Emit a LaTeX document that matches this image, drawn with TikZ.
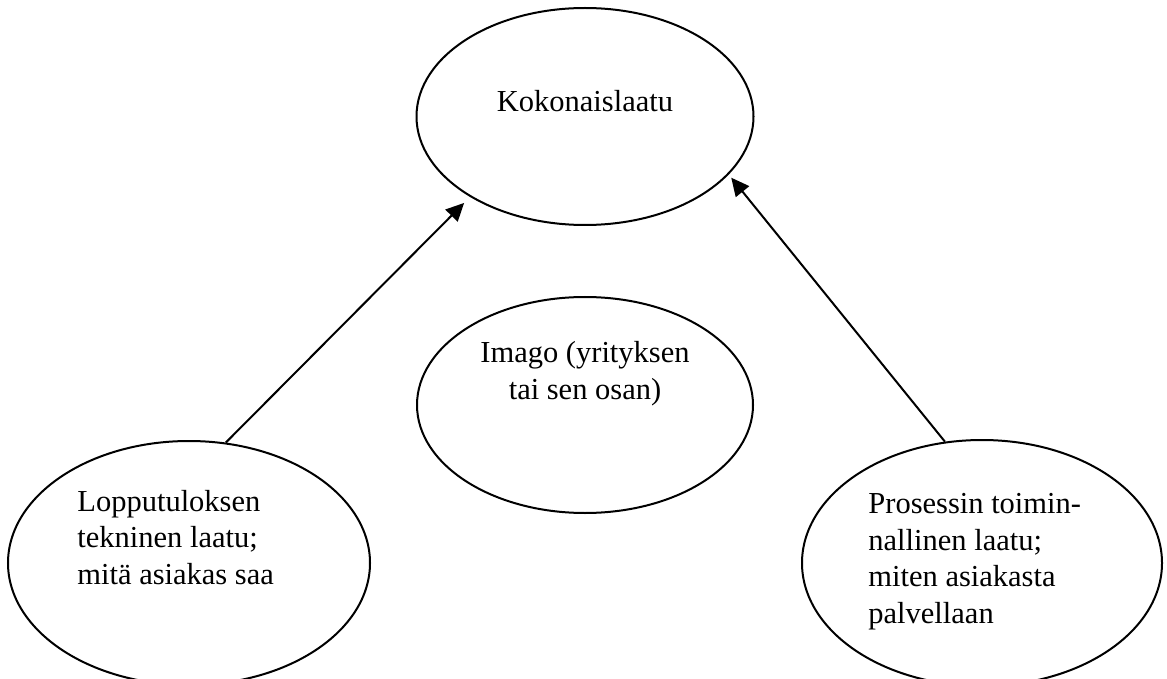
\documentclass[tikz,border=0pt]{standalone}
\usepackage{fontspec}
\setmainfont{Liberation Serif}
\usetikzlibrary{shapes.geometric,arrows.meta}

\begin{document}
\begin{tikzpicture}[x=0.5pt,y=-0.5pt,
  kupla/.style={draw, ellipse, line width=1pt, inner sep=0pt},
  teksti/.style={inner sep=0pt, font=\fontsize{15.25}{18.25}\selectfont},
  nuoli/.style={-{Triangle[length=9pt,width=8.5pt]}, line width=1pt}]
\useasboundingbox (0,0) rectangle (1167,679);

% Ellipses
\node[kupla, minimum width=168.5pt, minimum height=108.5pt] (kokonais) at (585,116.5) {};
\node[kupla, minimum width=168pt, minimum height=108pt] (imago) at (585,405) {};
\node[kupla, minimum width=181pt, minimum height=122pt] (lopputulos) at (189,563) {};
\node[kupla, minimum width=180pt, minimum height=123pt] (prosessi) at (982,563) {};

% Texts (multi-line: base = last line)
\node[teksti, anchor=base] (t-kokonais) at (585,112) {Kokonaislaatu};
\node[teksti, anchor=base, align=center] (t-imago) at (585,399) {Imago (yrityksen\\tai sen osan)};
\node[teksti, anchor=base west, align=left] (t-lopputulos) at (77,584)
  {Lopputuloksen\\tekninen laatu;\\mitä asiakas saa};
\node[teksti, anchor=base west, align=left] (t-prosessi) at (868,623)
  {Prosessin toimin-\\nallinen laatu;\\miten asiakasta\\palvellaan};

% Arrows
\draw[nuoli, shorten >=4.2pt] (lopputulos.73) -- (kokonais.215);
\draw[nuoli, shorten >=2pt] (prosessi.107) -- (kokonais.338);
\end{tikzpicture}
\end{document}
